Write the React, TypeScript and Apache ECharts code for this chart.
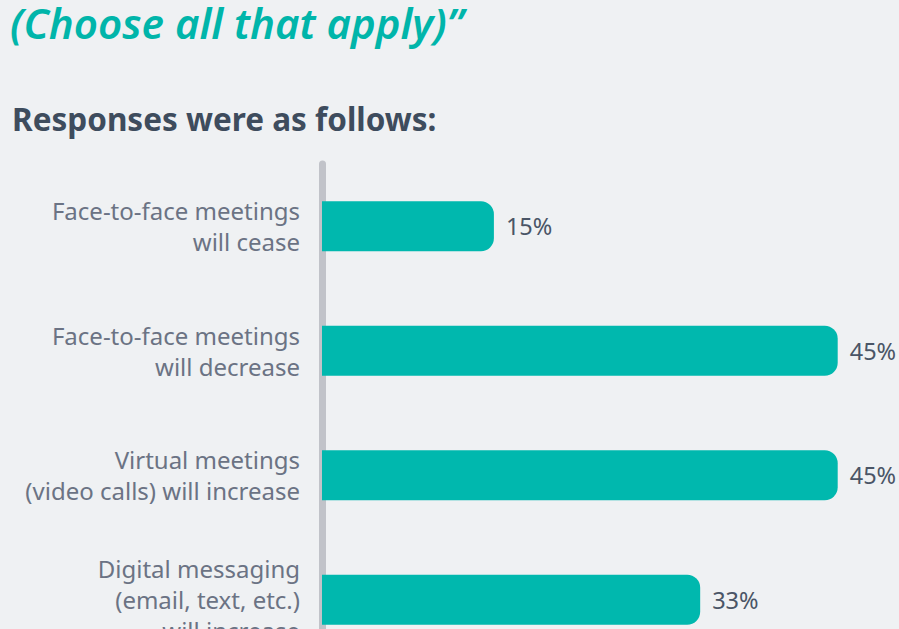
import React, { useEffect, useRef } from "react";
import * as echarts from "echarts";

const categories: string[] = [
  "Face-to-face meetings\nwill cease",
  "Face-to-face meetings\nwill decrease",
  "Virtual meetings\n(video calls) will increase",
  "Digital messaging\n(email, text, etc.)\nwill increase",
];
const values: number[] = [15, 45, 45, 33];
const titleText = "(Choose all that apply)\u201D";
const subtitleText = "Responses were as follows:";

const FONT = '"Noto Sans", "Open Sans", sans-serif';

export default function App() {
  const ref = useRef<HTMLDivElement>(null);
  useEffect(() => {
    const el = ref.current!;
    const chart = echarts.init(el, undefined, { renderer: "svg" });
    chart.setOption({
      animation: false,
      backgroundColor: "#eff1f3",
      textStyle: { fontFamily: FONT },
      graphic: [
        {
          type: "text",
          x: 10,
          y: 22,
          style: {
            text: titleText,
            font: `italic 600 42px ${FONT}`,
            fill: "#00b5aa",
            verticalAlign: "middle",
          },
        },
        {
          type: "text",
          x: 12,
          y: 118,
          style: {
            text: subtitleText,
            font: `bold 31.5px ${FONT}`,
            fill: "#3e4c5d",
            verticalAlign: "middle",
          },
        },
      ],
      grid: { left: 322, top: 164, width: 573, height: 498, containLabel: false },
      xAxis: { type: "value", min: 0, max: 50, show: false },
      yAxis: {
        type: "category",
        data: categories,
        inverse: true,
        offset: 4,
        axisTick: { show: false },
        axisLine: {
          show: true,
          lineStyle: { color: "#c1c3c9", width: 7, cap: "round" },
        },
        axisLabel: {
          margin: 18,
          color: "#6b7384",
          fontSize: 24,
          lineHeight: 31,
          padding: [0, 0, 6, 0],
          fontFamily: FONT,
          align: "right",
        },
      },
      series: [
        {
          type: "bar",
          data: values,
          barWidth: 50,
          itemStyle: { color: "#00b8ae", borderRadius: [0, 13, 13, 0] },
          label: {
            show: true,
            position: "right",
            distance: 12,
            formatter: "{c}%",
            color: "#4a5566",
            fontSize: 23.5,
            fontFamily: FONT,
          },
        },
      ],
    });
    return () => chart.dispose();
  }, []);
  return (
    <div
      ref={ref}
      style={{ position: "fixed", left: 0, top: 0, width: 899, height: 700 }}
    />
  );
}
